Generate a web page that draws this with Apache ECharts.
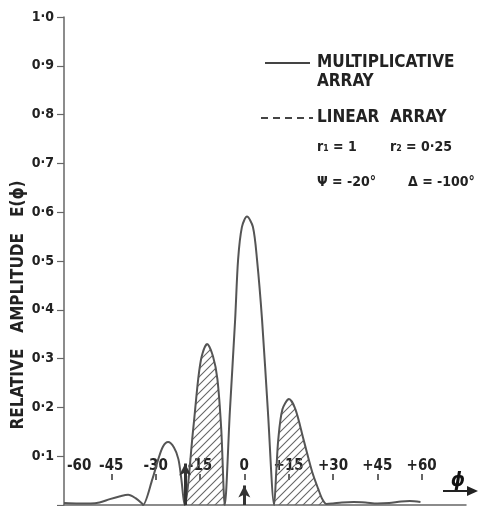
<!DOCTYPE html>
<html>
<head>
<meta charset="utf-8">
<script src="https://cdn.jsdelivr.net/npm/echarts@6/dist/echarts.min.js"></script>
<style>
  html, body { margin: 0; padding: 0; background: #fff; }
  #mainChart { width: 478px; height: 506px; }
</style>
</head>
<body>
<div id="mainChart"></div>
<script>
// radiation pattern, multiplicative array
var phi = [-61, -56, -52, -49, -45.5, -42, -39.3, -36.8, -34.6, -34.3, -31.1, -29.1, -27.5, -25.8, -23.8, -22.3, -21.3, -20.2,
    -17.3, -15.6, -14.4, -12.6, -10.6, -9.1, -7.8, -6.6,
    -4.9, -3.1, -2.1, -0.8, 0.9, 2.9, 4.3, 6.0, 8.0, 10.1,
    10.8, 11.5, 12.9, 15.1, 17.3, 20.0, 23.0, 25.0, 26.4, 27.8,
    30, 33, 37, 41, 45, 49, 53, 56, 59.6];
var amp = [0.004, 0.003, 0.003, 0.005, 0.012, 0.018, 0.021, 0.014, 0.003, 0, 0.053, 0.094, 0.120, 0.129, 0.118, 0.094, 0.053, 0,
    0.155, 0.258, 0.305, 0.330, 0.305, 0.258, 0.155, 0,
    0.19, 0.38, 0.503, 0.57, 0.591, 0.57, 0.503, 0.38, 0.19, 0,
    0.067, 0.135, 0.196, 0.217, 0.196, 0.135, 0.067, 0.033, 0.012, 0.002,
    0.003, 0.005, 0.006, 0.005, 0.003, 0.004, 0.007, 0.008, 0.006];

// hatched lobes
var hatchRanges = [[-20.2, -6.6], [10.1, 27.8]];

// arrows at psi and at 0
var arrowPhi = [-20, 0];
var arrowTop = [0.085, 0.04];

var xTickValues = [-60, -45, -30, -15, 0, 15, 30, 45, 60];
var xTickLabels = ['-60', '-45', '-30', '-15', '0', '+15', '+30', '+45', '+60'];
var yTickValues = [0.1, 0.2, 0.3, 0.4, 0.5, 0.6, 0.7, 0.8, 0.9, 1.0];
var yTickLabels = ['0·1', '0·2', '0·3', '0·4', '0·5', '0·6', '0·7', '0·8', '0·9', '1·0'];

var FONT = '"DejaVu Sans Condensed", "DejaVu Sans", sans-serif';

function hatchPattern() {
    var c = document.createElement('canvas');
    c.width = 8;
    c.height = 8;
    var g = c.getContext('2d');
    g.strokeStyle = '#666';
    g.lineWidth = 1.1;
    g.beginPath();
    g.moveTo(0, 8); g.lineTo(8, 0);
    g.moveTo(-1, 1); g.lineTo(1, -1);
    g.moveTo(7, 9); g.lineTo(9, 7);
    g.stroke();
    return c;
}

var curve = phi.map(function (p, i) { return [p, amp[i]]; });
var hatched = phi.map(function (p, i) {
    var inside = hatchRanges.some(function (r) { return p >= r[0] && p <= r[1]; });
    return inside ? [p, amp[i]] : [p, '-'];
});
var arrows = arrowPhi.map(function (p, i) {
    return [{ coord: [p, 0] }, { coord: [p, arrowTop[i]] }];
});

var myChart = echarts.init(document.getElementById('mainChart'), null, { renderer: 'canvas' });

myChart.setOption({
    animation: false,
    grid: { left: 64, right: 12, top: 17, bottom: 1 },
    xAxis: [{
        type: 'value',
        min: -61,
        max: 75,
        axisLine: { show: true, onZero: false, lineStyle: { color: '#666', width: 1.5 } },
        axisTick: { show: false },
        axisLabel: { show: false },
        splitLine: { show: false }
    }, {
        type: 'value',
        position: 'bottom',
        offset: -25,
        min: -61,
        max: 75,
        axisLine: { show: false, onZero: false },
        axisTick: {
            show: true,
            inside: true,
            length: 6,
            customValues: xTickValues.slice(1),
            lineStyle: { color: '#333', width: 1.5 }
        },
        axisLabel: {
            inside: true,
            margin: 6,
            customValues: xTickValues,
            alignMinLabel: 'left',
            formatter: function (v) { return xTickLabels[xTickValues.indexOf(v)]; },
            color: '#222',
            fontFamily: FONT,
            fontWeight: 'bold',
            fontSize: 15
        },
        splitLine: { show: false }
    }],
    yAxis: {
        type: 'value',
        min: 0,
        max: 1,
        interval: 0.1,
        axisLine: { show: true, onZero: false, lineStyle: { color: '#666', width: 1.5 } },
        axisTick: { show: true, length: 7, lineStyle: { color: '#666', width: 1.2 } },
        axisLabel: {
            margin: 10,
            formatter: function (v) {
                var i = yTickValues.findIndex(function (t) { return Math.abs(t - v) < 1e-6; });
                return i < 0 ? '' : yTickLabels[i];
            },
            color: '#222',
            fontFamily: FONT,
            fontWeight: 'bold',
            fontSize: 14
        },
        splitLine: { show: false }
    },
    series: [{
        name: 'hatch',
        type: 'line',
        data: hatched,
        smooth: 0.3,
        showSymbol: false,
        lineStyle: { width: 0 },
        areaStyle: { color: { image: hatchPattern(), repeat: 'repeat' }, opacity: 1 },
        z: 2,
        silent: true
    }, {
        name: 'MULTIPLICATIVE ARRAY',
        type: 'line',
        data: curve,
        smooth: 0.3,
        showSymbol: false,
        lineStyle: { color: '#555', width: 2 },
        z: 3,
        markLine: {
            silent: true,
            symbol: ['none', 'arrow'],
            symbolSize: [9, 12],
            label: { show: false },
            lineStyle: { color: '#333', width: 3, type: 'solid' },
            data: arrows
        }
    }],
    graphic: [
        { type: 'line', shape: { x1: 265, y1: 63, x2: 310, y2: 63 }, style: { stroke: '#444', lineWidth: 2 } },
        { type: 'text', x: 317, y: 63, style: { text: 'MULTIPLICATIVE', fill: '#222', font: 'bold 17px ' + FONT, verticalAlign: 'middle' } },
        { type: 'text', x: 317, y: 82, style: { text: 'ARRAY', fill: '#222', font: 'bold 17px ' + FONT, verticalAlign: 'middle' } },
        { type: 'line', shape: { x1: 261, y1: 118, x2: 313, y2: 118 }, style: { stroke: '#444', lineWidth: 2, lineDash: [7, 5] } },
        { type: 'text', x: 317, y: 118, style: { text: 'LINEAR  ARRAY', fill: '#222', font: 'bold 17px ' + FONT, verticalAlign: 'middle' } },
        { type: 'text', x: 317, y: 147, style: { text: 'r₁ = 1', fill: '#222', font: 'bold 14px ' + FONT, verticalAlign: 'middle' } },
        { type: 'text', x: 390, y: 147, style: { text: 'r₂ = 0·25', fill: '#222', font: 'bold 14px ' + FONT, verticalAlign: 'middle' } },
        { type: 'text', x: 317, y: 182, style: { text: 'Ψ = -20°', fill: '#222', font: 'bold 14px ' + FONT, verticalAlign: 'middle' } },
        { type: 'text', x: 408, y: 182, style: { text: 'Δ = -100°', fill: '#222', font: 'bold 14px ' + FONT, verticalAlign: 'middle' } },
        { type: 'text', x: 19, y: 305, rotation: Math.PI / 2, style: { text: 'RELATIVE   AMPLITUDE   E(ϕ)', fill: '#222', font: 'bold 17px ' + FONT, align: 'center', verticalAlign: 'middle' } },
        { type: 'text', x: 458, y: 481, style: { text: 'ϕ', fill: '#111', font: 'bold italic 20px ' + FONT, align: 'center', verticalAlign: 'middle' } },
        { type: 'line', shape: { x1: 443, y1: 491, x2: 470, y2: 491 }, style: { stroke: '#222', lineWidth: 2 } },
        { type: 'polygon', shape: { points: [[478, 491], [467, 486], [467, 496]] }, style: { fill: '#222' } }
    ]
});
</script>
</body>
</html>
